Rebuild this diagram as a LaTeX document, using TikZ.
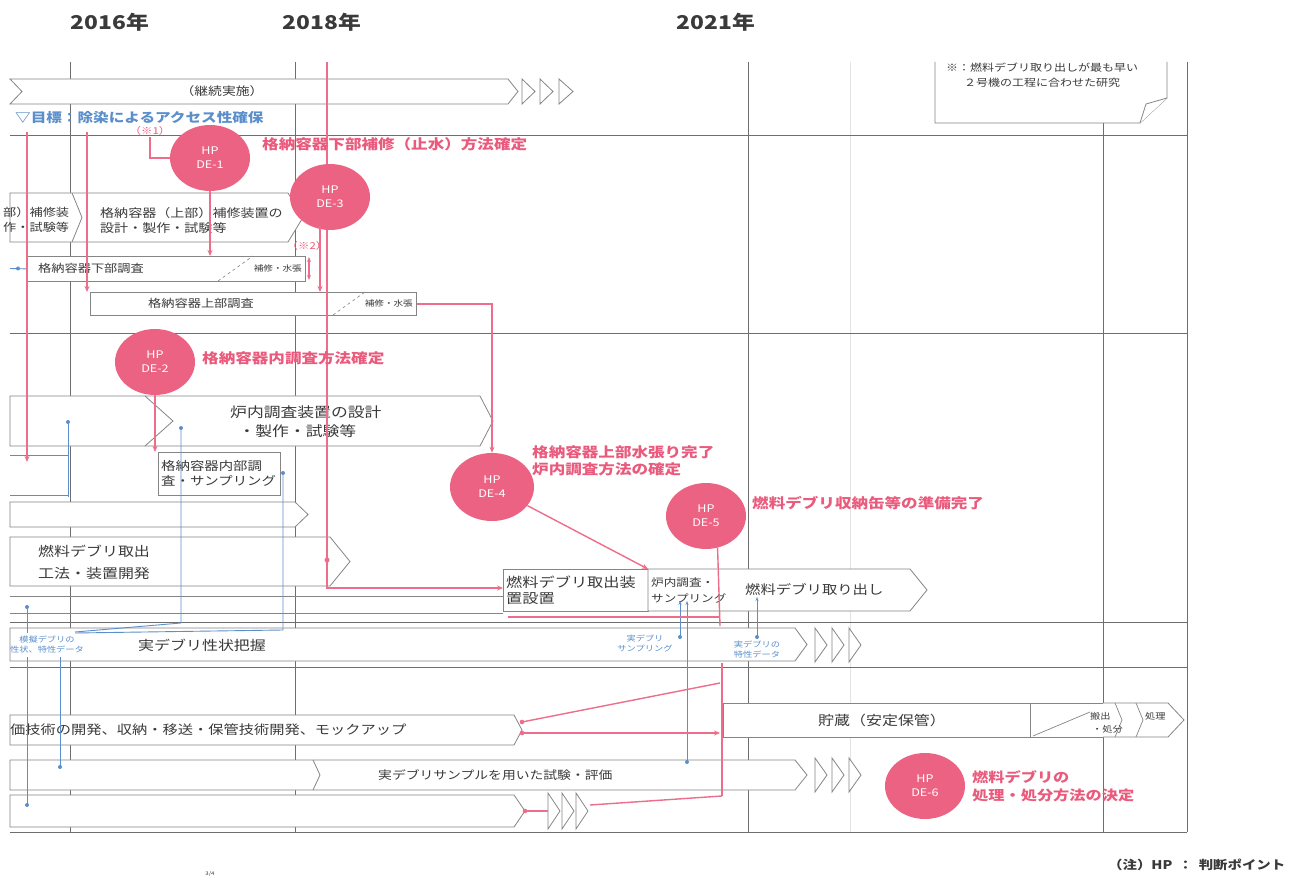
\documentclass[tikz,border=0pt]{standalone}
\usepackage{fontspec}
\setmainfont{Noto Sans CJK JP}[FakeStretch=1.2]
\usetikzlibrary{shapes.geometric,arrows.meta}
\definecolor{hpc}{HTML}{EC6282}
\definecolor{pinkt}{HTML}{EA5A7C}
\definecolor{linkc}{HTML}{EE6D8A}
\definecolor{bluec}{HTML}{5B8FCC}
\definecolor{gridc}{HTML}{6E6E6E}
\definecolor{barc}{HTML}{858585}
\definecolor{txtc}{HTML}{3A3A3A}
\newcommand\fz[2]{\fontsize{#1}{#2}\selectfont}
\newcommand\tria[4]{\draw[tri] (#1,#2) -- ({#1+#4},{(#2+#3)/2}) -- (#1,#3) -- cycle;}
\begin{document}
\begin{tikzpicture}[x=1pt,y=-1pt,
  gridl/.style={draw=gridc,line width=0.9pt},
  barl/.style={draw=barc,line width=0.8pt,fill=white},
  boxn/.style={draw=barc,line width=0.8pt,fill=white,anchor=north west,inner sep=0pt},
  hp/.style={ellipse,fill=hpc,draw=none,minimum width=80pt,minimum height=66pt,inner sep=0pt,text=white,align=center,font=\fz{10.5}{14}},
  plab/.style={anchor=west,text=pinkt,font=\bfseries\fz{13.8}{17},align=left,inner sep=0pt},
  btxt/.style={anchor=west,text=txtc,align=left,inner sep=0pt},
  link/.style={draw=linkc,line width=1.4pt},
  linka/.style={link,-{Stealth[length=6pt,width=5pt]}},
  bl/.style={draw=bluec,line width=0.9pt},
  blab/.style={text=bluec,font=\fz{7.7}{10},align=center,inner sep=0pt},
  tri/.style={draw=barc,line width=0.8pt,fill=white},
  ydate/.style={font=\bfseries\fz{19}{21},text=txtc},
]
\fill[white] (0,0) rectangle (1309,882);
\useasboundingbox (0,0) rectangle (1309,882);

% years
\node[ydate] (y16) at (110,22) {2016年};
\node[ydate] (y18) at (322,22) {2018年};
\node[ydate] (y21) at (716,22) {2021年};

% grid
\draw[draw=gray!22,line width=0.6pt] (850,62)--(850,832);
\draw[gridl] (70,62)--(70,832);
\draw[gridl] (295,62)--(295,832);
\draw[gridl] (748,62)--(748,832);
\draw[gridl] (1103,123)--(1103,832);
\draw[gridl] (1187,62)--(1187,832);
\draw[gridl] (10,135)--(1187,135);
\draw[gridl] (10,333)--(1187,333);
\draw[gridl] (10,622)--(1187,622);
\draw[gridl] (10,667)--(1187,667);
\draw[gridl] (10,832)--(1187,832);

% note box
\draw[barl] (935,62) -- (935,123) -- (1140,123) -- (1167,98) -- (1167,62);
\draw[barl] (1140,123) -- (1146,104) -- (1167,98);
\node[text=txtc,font=\fz{10}{15},align=center] (note) at (1042,75) {※：燃料デブリ取り出しが最も早い\\２号機の工程に合わせた研究};

% section 1
\draw[barl] (10,79) -- (508,79) -- (518,91.5) -- (508,104) -- (10,104) -- (22,91.5) -- cycle;
\tria{522}{79}{104}{13}
\tria{540}{79}{104}{13}
\tria{559}{79}{104}{14}
\node[text=txtc,font=\fz{11.5}{14}] (a0) at (222,91.5) {（継続実施）};
\node[anchor=west,text=bluec,font=\bfseries\fz{13}{15},inner sep=0pt] (goal) at (15,118) {▽目標：除染によるアクセス性確保};

% section 2 bars
\draw[barl] (10,193) -- (288,193) -- (303,217.5) -- (288,242) -- (10,242) -- cycle;
\draw[barl,fill=none] (72,193) -- (82,217.5) -- (72,242);
\node[btxt,font=\fz{11}{15}] (a1t) at (3,220) {部）補修装\\作・試験等};
\node[btxt,font=\fz{11.7}{15}] (a2t) at (100,220) {格納容器（上部）補修装置の\\設計・製作・試験等};

\node[boxn,minimum width=278pt,minimum height=25pt] (b1) at (27,256) {};
\draw[barc,dashed,line width=0.6pt] (218,281)--(253,256);
\node[btxt,font=\fz{11}{13}] (b1t) at (38,268.5) {格納容器下部調査};
\node[btxt,font=\fz{8}{10},anchor=east] (b1r) at (302,268.5) {補修・水張};

\node[boxn,minimum width=326pt,minimum height=23pt] (b2) at (90,292) {};
\draw[barc,dashed,line width=0.6pt] (333,315)--(365,292);
\node[text=txtc,font=\fz{11}{13},inner sep=0pt] (b2t) at (201,303.5) {格納容器上部調査};
\node[btxt,font=\fz{8}{10},anchor=east] (b2r) at (413,303.5) {補修・水張};

\coordinate (bls) at (10,268.5);
\draw[bl] (bls) -- (b1.west);
\fill[bluec] (18,268.5) circle (2pt);

% section 3 bars
\draw[barl] (10,396) -- (480,396) -- (493,421) -- (480,446) -- (10,446) -- cycle;
\draw[barl,fill=none] (145,396) -- (173,421) -- (145,446);
\node[btxt,font=\fz{14}{19}] (rt) at (230,422) {炉内調査装置の設計\\\hspace{0.6em}・製作・試験等};

\draw[barl,fill=none] (10,455) -- (68,455) (10,495) -- (68,495);
\node[boxn,minimum width=122pt,minimum height=43pt] (c0) at (158,452) {};
\node[btxt,font=\fz{12}{15}] (c0t) at (161,473.5) {格納容器内部調\\査・サンプリング};

\draw[barl] (10,502) -- (295,502) -- (308,514.5) -- (295,527) -- (10,527) -- cycle;
\draw[barl] (10,537) -- (330,537) -- (350,561.5) -- (330,586) -- (10,586) -- cycle;
\node[btxt,font=\fz{13.3}{22}] (ft) at (38,562) {燃料デブリ取出\\工法・装置開発};

\draw[barl,fill=none] (10,596) -- (503,596) (10,613) -- (503,613);

\node[boxn,minimum width=145pt,minimum height=42pt] (c1) at (503,569) {};
\node[btxt,font=\fz{13.5}{16}] (c1t) at (506,590) {燃料デブリ取出装\\置設置};
\draw[barl] (648,569) -- (910,569) -- (927,590) -- (910,611) -- (648,611) -- cycle;
\coordinate (c2nw) at (648,569);
\node[btxt,font=\fz{10.5}{16}] (c2t) at (651,590) {炉内調査・\\サンプリング};
\node[btxt,font=\fz{12.8}{15}] (c2u) at (745,590) {燃料デブリ取り出し};

% section 4
\draw[barl] (10,628) -- (795,628) -- (807,644.5) -- (795,661) -- (10,661) -- cycle;
\tria{815}{628}{662}{12}
\tria{832}{628}{662}{12}
\tria{849}{628}{662}{12}
\node[btxt,font=\fz{13.3}{16}] (jt) at (138,645) {実デブリ性状把握};

% section 5
\draw[barl] (10,715) -- (514,715) -- (522,730) -- (514,745) -- (10,745) -- cycle;
\node[btxt,font=\fz{12.7}{15}] (mt) at (10,730) {価技術の開発、収納・移送・保管技術開発、モックアップ};

\node[boxn,minimum width=307pt,minimum height=34pt] (st) at (723,703) {};
\node[btxt,font=\fz{13.3}{16}] (stt) at (818,720) {貯蔵（安定保管）};
\node[boxn,minimum width=73pt,minimum height=34pt] (sb) at (1030,703) {};
\draw[barc,line width=0.7pt] (1033,736) -- (1090,712);
\draw[barl] (1103,703) -- (1168,703) -- (1184,720) -- (1168,737) -- (1103,737);
\draw[barc,line width=0.7pt] (1115,703) -- (1122,720) -- (1115,737);
\draw[barc,line width=0.7pt] (1136,703) -- (1143,720) -- (1136,737);
\node[btxt,font=\fz{8.5}{10}] (sb1) at (1090,716) {搬出};
\node[btxt,font=\fz{8.5}{10}] (sb2) at (1092,729) {・処分};
\node[btxt,font=\fz{8.5}{10}] (sb3) at (1145,716) {処理};

\draw[barl] (10,760) -- (795,760) -- (807,775) -- (795,790) -- (10,790) -- cycle;
\draw[barl,fill=none] (313,760) -- (320,775) -- (313,790);
\tria{815}{758}{792}{12}
\tria{832}{758}{792}{12}
\tria{849}{758}{792}{12}
\node[btxt,font=\fz{11.5}{14}] (smt) at (378,775) {実デブリサンプルを用いた試験・評価};

\draw[barl] (10,795) -- (514,795) -- (525,811) -- (514,827) -- (10,827) -- cycle;
\tria{548}{793}{829}{12}
\tria{562}{793}{829}{12}
\tria{576}{793}{829}{12}

% blue lines
\draw[bl] (68,422) -- (68,497);
\fill[bluec] (68,422) circle (2pt);
\draw[bl] (181,428) -- (181,623) -- (75,632);
\fill[bluec] (181,428) circle (2pt);
\draw[bl] (283,473) -- (283,630) -- (75,633);
\fill[bluec] (283,473) circle (2pt);
\draw[bl] (27,607) -- (27,633);
\fill[bluec] (27,607) circle (2pt);
\draw[bl] (27,657) -- (27,805);
\fill[bluec] (27,805) circle (2pt);
\draw[bl] (60,657) -- (60,767);
\fill[bluec] (60,767) circle (2pt);
\draw[bl,-{Stealth[length=4pt,width=3pt]}] (680,637) -- (680,601);
\fill[bluec] (680,637) circle (2pt);
\draw[bl,-{Stealth[length=4pt,width=3pt]}] (687,762) -- (687,601);
\fill[bluec] (687,762) circle (2pt);
\draw[bl,-{Stealth[length=4pt,width=3pt]}] (757,637) -- (757,597);
\fill[bluec] (757,637) circle (2pt);

\node[blab] (bl1) at (47,644.5) {模擬デブリの\\性状、特性データ};
\node[blab] (bl2) at (645,643) {実デブリ\\サンプリング};
\node[blab] (bl3) at (757,650) {実デブリの\\特性データ};

% pink links (behind circles)
\node[text=pinkt,font=\fz{9.5}{11},inner sep=1pt] (s1) at (150,131) {（※1）};
\node[text=pinkt,font=\fz{9.5}{11},inner sep=1pt] (s2) at (307,246) {（※2）};

\coordinate (l27a) at (27,132);
\coordinate (l27b) at (27,462);
\draw[linka] (l27a) -- (l27b);
\coordinate (l87) at (87,132);
\coordinate (topr) at (327,62);
\coordinate (bend) at (327,588);
\coordinate (d3a) at (320,226);
\coordinate (da) at (309,257);
\coordinate (db) at (309,280);
\draw[linka] (topr) -- (bend) -- (bend -| c1.west);
\fill[linkc] (327,560) circle (2.5pt);

\node[hp] (de1) at (210,158) {HP\\DE-1};
\node[hp] (de3) at (330,197) {HP\\DE-3};
\node[hp] (de2) at (155,362) {HP\\DE-2};
\node[hp,minimum width=84pt,minimum height=68pt] (de4) at (492,487) {HP\\DE-4};
\node[hp] (de5) at (706,516) {HP\\DE-5};
\node[hp] (de6) at (925,786) {HP\\DE-6};

\draw[linka] (l87) -- (l87 |- b2.north);
\draw[link] (s1.south) |- (de1.west);
\draw[linka] (de1.south) -- (de1.south |- b1.north);
\draw[linka] (d3a) -- (d3a |- b2.north);
\draw[link,{Stealth[length=5pt,width=4pt]}-{Stealth[length=5pt,width=4pt]}] (da) -- (db);
\draw[linka] (b2.east) -| (de4.north);
\draw[linka] (de2.south) -- (de2.south |- c0.north);
\draw[linka] (de4) -- (c2nw);
\coordinate (d5b) at (720,626);
\draw[link] (de5.-70) -- (d5b);
\coordinate (pu1) at (508,617);
\coordinate (pu2) at (720,617);
\draw[link,line width=1.1pt] (pu1) -- (pu2);
\coordinate (v1) at (722,663);
\coordinate (v2) at (722,796);
\draw[link] (v1) -- (v2);
\coordinate (mk1) at (522,722);
\coordinate (mk2) at (522,733);
\coordinate (mk1e) at (720,683);
\coordinate (mk2e) at (720,733);
\draw[link] (mk1) -- (mk1e);
\draw[linka] (mk2) -- (mk2e);
\fill[linkc] (mk1) circle (2.3pt);
\fill[linkc] (mk2) circle (2.3pt);
\coordinate (bt) at (525,811);
\coordinate (bt1) at (548,811);
\coordinate (bt2) at (590,805);
\draw[link] (bt) -- (bt1);
\draw[link] (bt2) -- (v2);
\fill[linkc] (bt) circle (2.3pt);

% pink labels
\node[plab] (l1) at (262,144) {格納容器下部補修（止水）方法確定};
\node[plab] (l2) at (202,358) {格納容器内調査方法確定};
\node[plab] (l4) at (532,461) {格納容器上部水張り完了\\炉内調査方法の確定};
\node[plab] (l5) at (752,503) {燃料デブリ収納缶等の準備完了};
\node[plab,font=\bfseries\fz{13.5}{18}] (l6) at (972,786) {燃料デブリの\\処理・処分方法の決定};

% footer
\node[anchor=west,text=txtc,font=\bfseries\fz{12}{14},inner sep=0pt] (fn) at (1108,865) {（注）HP\hspace{6pt}：\hspace{6pt}判断ポイント};
\node[text=txtc,font=\fz{5}{6}] (pg) at (210,874) {3/4};
\end{tikzpicture}
\end{document}
